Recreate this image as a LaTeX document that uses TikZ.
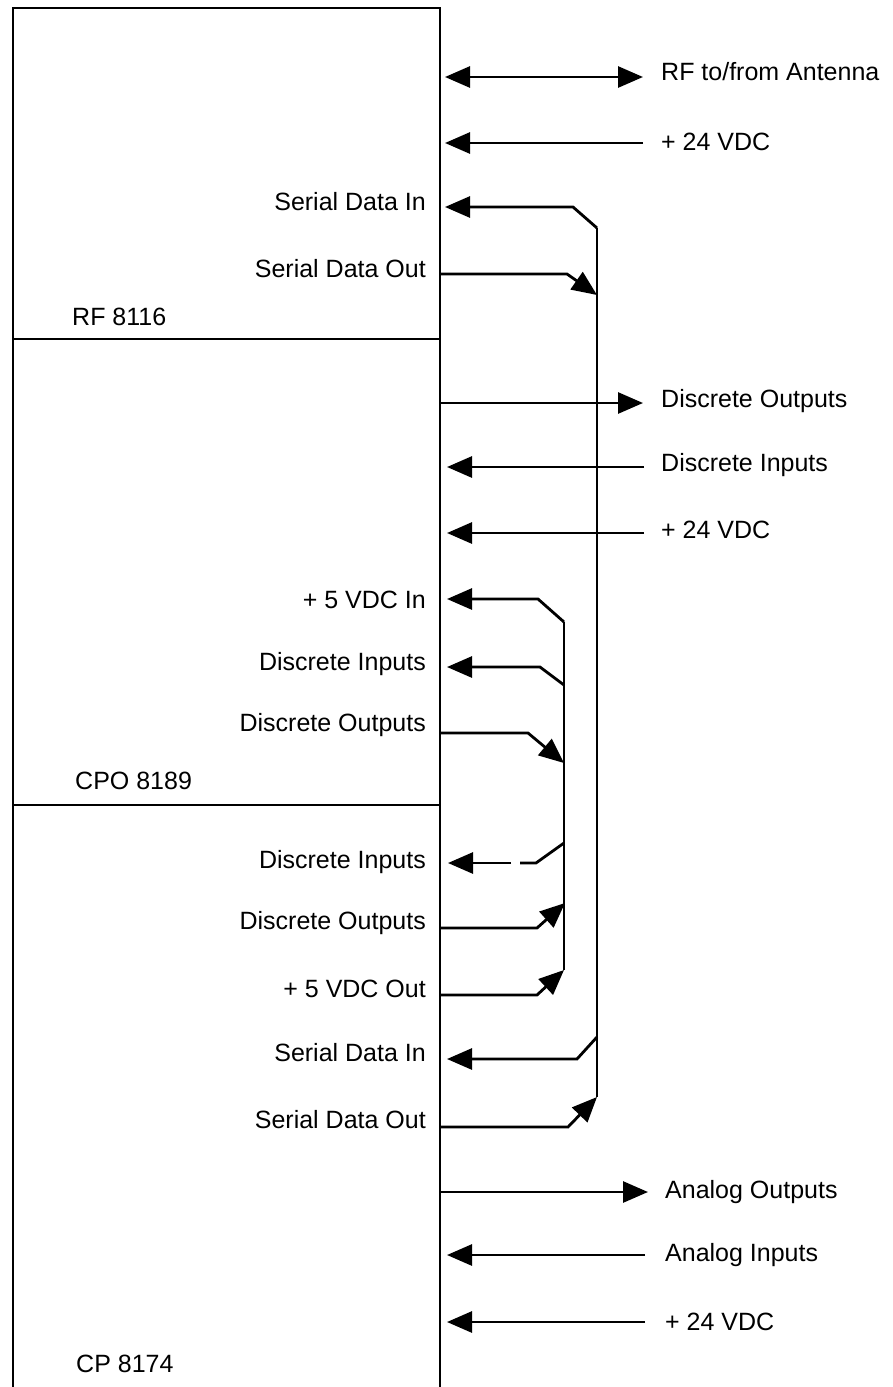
\documentclass[tikz,border=0pt]{standalone}
\usepackage{fontspec}
\setmainfont{Liberation Sans}
\usetikzlibrary{arrows.meta}
\tikzset{
  boxline/.style={line width=2.4pt},
  wire/.style={line width=2.8pt, line join=miter},
  arr/.style={wire, -{Triangle[length=25pt,width=21pt]}},
  darr/.style={wire, {Triangle[length=25pt,width=21pt]}-{Triangle[length=25pt,width=21pt]}},
  llab/.style={anchor=base east, inner sep=0pt, font=\fontsize{25}{29}\selectfont},
  rlab/.style={anchor=base west, inner sep=0pt, font=\fontsize{25}{29}\selectfont},
  ulab/.style={anchor=base west, inner sep=0pt, font=\fontsize{25}{29}\selectfont},
}
\begin{document}
\begin{tikzpicture}[x=1pt,y=-1pt]
\useasboundingbox (0,0) rectangle (892,1387);
% box
\coordinate (bl) at (13,1387);
\coordinate (tl) at (13,8);
\coordinate (tr) at (440,8);
\coordinate (br) at (440,1387);
\draw[boxline] (bl) -- (tl) -- (tr) -- (br);
\coordinate (d1l) at (13,339); \coordinate (d1r) at (440,339);
\coordinate (d2l) at (13,805); \coordinate (d2r) at (440,805);
\draw[boxline] (d1l) -- (d1r);
\draw[boxline] (d2l) -- (d2r);

% unit names
\node[ulab] (rf) at (72,325) {RF 8116};
\node[ulab] (cpo) at (75,789) {CPO 8189};
\node[ulab] (cp) at (76,1372) {CP 8174};

% left labels
\node[llab] (l1) at (426,210) {Serial Data In};
\node[llab] (l2) at (426,277) {Serial Data Out};
\node[llab] (l3) at (426,608) {+ 5 VDC In};
\node[llab] (l4) at (426,670) {Discrete Inputs};
\node[llab] (l5) at (426,731) {Discrete Outputs};
\node[llab] (l6) at (426,868) {Discrete Inputs};
\node[llab] (l7) at (426,929) {Discrete Outputs};
\node[llab] (l8) at (426,997) {+ 5 VDC Out};
\node[llab] (l9) at (426,1061) {Serial Data In};
\node[llab] (l10) at (426,1128) {Serial Data Out};

% right labels
\node[rlab] (r1) at (661,80) {RF to/from Antenna};
\node[rlab] (r2) at (661,150) {+ 24 VDC};
\node[rlab] (r3) at (661,407) {Discrete Outputs};
\node[rlab] (r4) at (661,471) {Discrete Inputs};
\node[rlab] (r5) at (661,538) {+ 24 VDC};
\node[rlab] (r6) at (665,1198) {Analog Outputs};
\node[rlab] (r7) at (665,1261) {Analog Inputs};
\node[rlab] (r8) at (665,1330) {+ 24 VDC};

% external arrows
\coordinate (a1) at (445,77);  \coordinate (b1) at (643,77);
\coordinate (a2) at (445,143); \coordinate (b2) at (643,143);
\coordinate (a3) at (440,403); \coordinate (b3) at (643,403);
\coordinate (a4) at (447,467); \coordinate (b4) at (644,467);
\coordinate (a5) at (447,533); \coordinate (b5) at (644,533);
\coordinate (a6) at (440,1192); \coordinate (b6) at (648,1192);
\coordinate (a7) at (447,1255); \coordinate (b7) at (645,1255);
\coordinate (a8) at (447,1322); \coordinate (b8) at (645,1322);
\draw[darr] (a1) -- (b1);
\draw[arr] (b2) -- (a2);
\draw[arr] (a3) -- (b3);
\draw[arr] (b4) -- (a4);
\draw[arr] (b5) -- (a5);
\draw[arr] (a6) -- (b6);
\draw[arr] (b7) -- (a7);
\draw[arr] (b8) -- (a8);

% outer serial bus
\coordinate (ob1) at (597,228);
\coordinate (ob2) at (597,1097);
\draw[wire] (ob1) -- (ob2);
\coordinate (s1) at (445,207);
\draw[arr] (ob1) -- (573,207) -- (s1);
\coordinate (s2) at (440,274);
\coordinate (s2e) at (597,295);
\draw[arr] (s2) -- (567,274) -- (s2e);
\coordinate (s3b) at (597,1037);
\coordinate (s3) at (447,1059);
\draw[arr] (s3b) -- (577,1059) -- (s3);
\coordinate (s4) at (440,1127);
\draw[arr] (s4) -- (568,1127) -- (ob2);

% inner discrete bus
\coordinate (ib1) at (564,622);
\coordinate (ib2) at (564,970);
\draw[wire] (ib1) -- (ib2);
\coordinate (p1) at (447,599);
\draw[arr] (ib1) -- (538,599) -- (p1);
\coordinate (p2b) at (564,685);
\coordinate (p2) at (447,667);
\draw[arr] (p2b) -- (540,667) -- (p2);
\coordinate (p3) at (440,733);
\coordinate (p3e) at (564,763);
\draw[arr] (p3) -- (528,733) -- (p3e);
\coordinate (p4b) at (564,843);
\coordinate (p4g) at (520,863);
\coordinate (p4h) at (511,863);
\coordinate (p4) at (448,863);
\draw[wire] (p4b) -- (536,863) -- (p4g);
\draw[arr] (p4h) -- (p4);
\coordinate (p5) at (440,928);
\coordinate (p5e) at (565,903);
\draw[arr] (p5) -- (537,928) -- (p5e);
\coordinate (p6) at (440,995);
\draw[arr] (p6) -- (537,995) -- (ib2);
\end{tikzpicture}
\end{document}
